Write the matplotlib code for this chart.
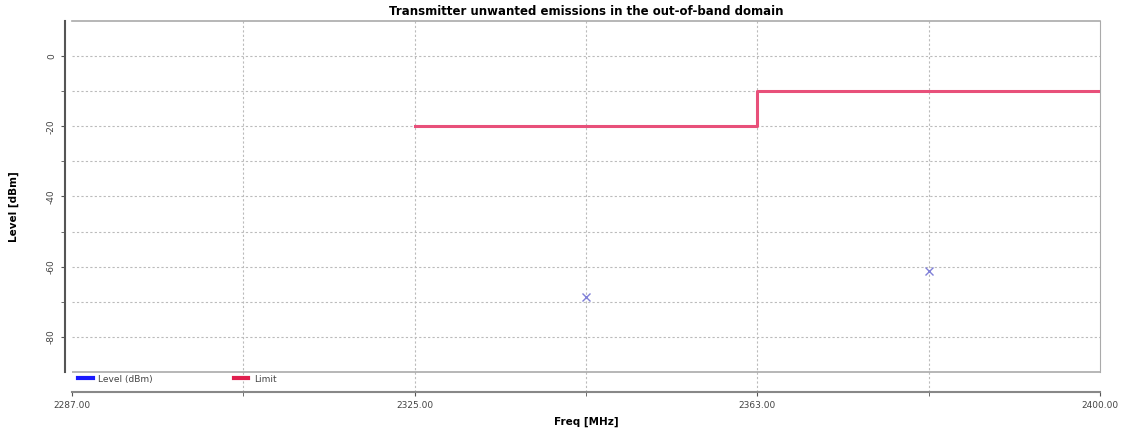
import numpy as np
import matplotlib
matplotlib.use('Agg')
import matplotlib.pyplot as plt

# data
freq_min, freq_max = 2287.0, 2400.0
x_tick_labels = ['2287.00', '2325.00', '2363.00', '2400.00']
y_ticks = [0, -20, -40, -60, -80]
y_tick_labels = ['0', '-20', '-40', '-60', '-80']

limit_freq = [2324.67, 2362.33, 2362.33, 2400.0]
limit_level = [-20, -20, -10, -10]

level_freq = [2343.5, 2381.2]
level_dbm = [-68.5, -61.3]

# figure -----------------------------------------------------------------------
fig = plt.figure(figsize=(11.31, 4.34), dpi=100)
W, H = 1131.0, 434.0
ax = fig.add_axes([72 / W, (H - 392) / H, (1100 - 72) / W, (392 - 21) / H])

y_top, y_plot_bottom = 10, -90
# spines first (set_position resets the ticks)
ax.spines['left'].set_position(('outward', 5))
ax.spines['left'].set_bounds(y_plot_bottom, y_top)
ax.spines['left'].set_color('#555555')
ax.spines['left'].set_linewidth(1.5)
ax.spines['right'].set_bounds(y_plot_bottom, y_top)
ax.spines['right'].set_color('#aaaaaa')
ax.spines['top'].set_color('#aaaaaa')
ax.spines['top'].set_linewidth(1.2)
ax.spines['bottom'].set_color('#888888')
ax.spines['bottom'].set_linewidth(1.5)

# extra room below the plot area for the legend strip
ax.set_ylim(-95.7, y_top)
ax.set_xlim(freq_min, freq_max)

x_ticks = np.linspace(freq_min, freq_max, len(x_tick_labels))
x_minor = (x_ticks[:-1] + x_ticks[1:]) / 2
ax.set_xticks(x_ticks)
ax.set_xticklabels(x_tick_labels, fontsize=6.5, color='#444444')
ax.set_xticks(x_minor, minor=True)
ax.set_yticks(y_ticks)
ax.set_yticklabels(y_tick_labels, fontsize=6.5, color='#444444', rotation=90, va='center')
ax.set_yticks([-10, -30, -50, -70], minor=True)
ax.tick_params(axis='both', which='both', length=3, color='#555555')

# grid, dotted
for yv in y_ticks + [-10, -30, -50, -70]:
    ax.plot([freq_min, freq_max], [yv, yv], color='#bbbbbb', lw=0.8, ls=(0, (2, 2)), zorder=1)
for xv in list(x_ticks[1:-1]) + list(x_minor):
    ax.plot([xv, xv], [-95.7, y_top], color='#bbbbbb', lw=0.8, ls=(0, (2, 2)), zorder=1)

# plot area bottom edge
ax.plot([freq_min, freq_max], [y_plot_bottom, y_plot_bottom], color='#aaaaaa', lw=1.2, zorder=2)

# series
ax.plot(level_freq, level_dbm, ls='none', marker='x', ms=6, mew=1.0,
        color='#8080d8', zorder=4)
ax.plot(limit_freq, limit_level, color='#e8507a', lw=2.2, zorder=3)

# legend strip under the plot area
ax.plot([], [], color='#1a1aff', lw=3, label='Level (dBm)')
ax.plot([], [], color='#e0204f', lw=3, label='Limit')
handles, labels = ax.get_legend_handles_labels()
ax.legend(handles[-2:], labels[-2:], loc='center left', bbox_to_anchor=(-0.002, 0.035),
          ncol=2, frameon=False, fontsize=6.5, handlelength=1.6, columnspacing=9,
          handletextpad=0.6, labelcolor='#444444')

ax.set_title('Transmitter unwanted emissions in the out-of-band domain',
             fontsize=8.5, fontweight='bold', pad=4)
ax.set_xlabel('Freq [MHz]', fontsize=7.5, fontweight='bold', labelpad=5)
ax.set_ylabel('Level [dBm]', fontsize=7.5, fontweight='bold', labelpad=20)

fig.savefig('out.png', dpi=100)
